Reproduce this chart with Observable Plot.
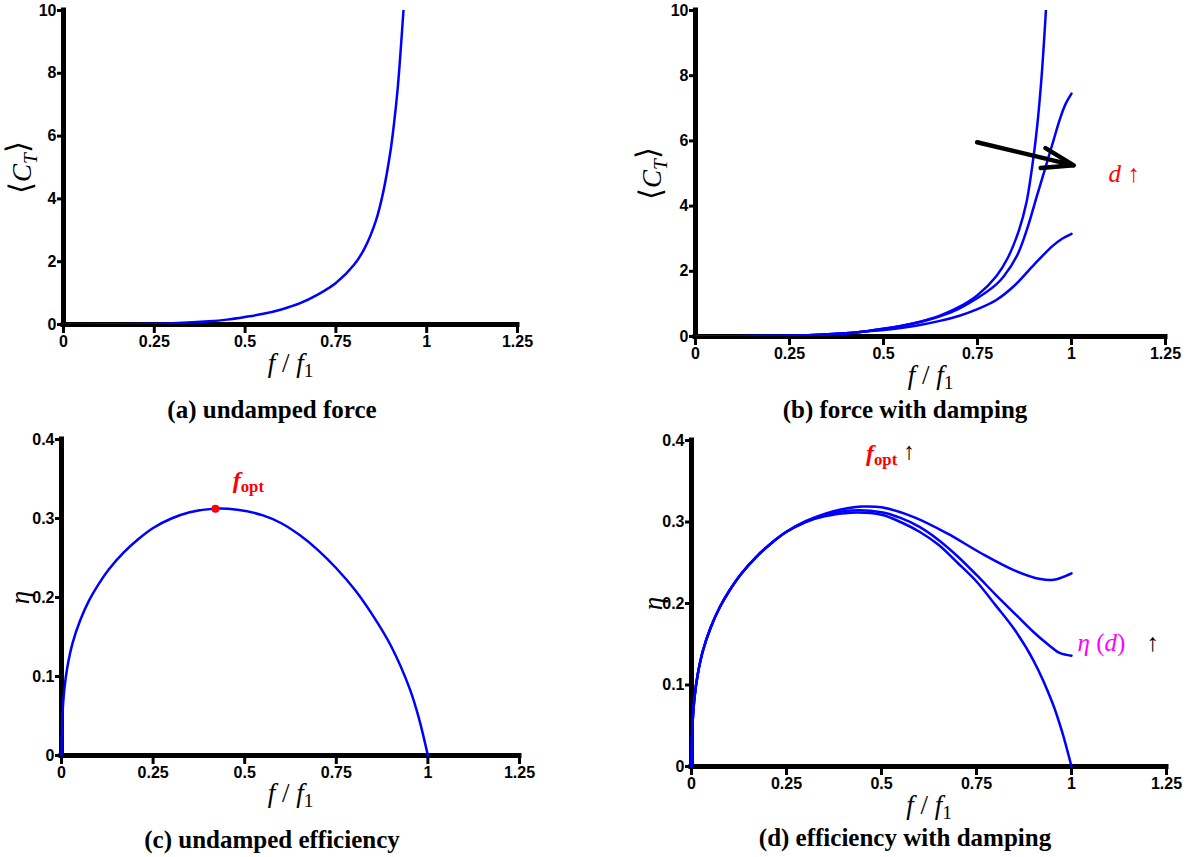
<!DOCTYPE html>
<html><head><meta charset="utf-8">
<script src="https://cdn.jsdelivr.net/npm/d3@7"></script>
<script src="https://cdn.jsdelivr.net/npm/@observablehq/plot@0.6"></script>
<style>
html,body{margin:0;padding:0;background:#fff;}
#root{position:relative;width:1188px;height:857px;overflow:hidden;background:#fff;}
.panel{position:absolute;}
.cap{position:absolute;font-family:"Liberation Serif","Times New Roman",serif;font-weight:bold;font-size:25px;color:#000;white-space:nowrap;transform:translateX(-50%);line-height:28px;}
</style></head><body><div id="root"></div>
<script>
// ---- tick values ----
const xTicks = [0, 0.25, 0.5, 0.75, 1, 1.25];
const ctTicks = [0, 2, 4, 6, 8, 10];
const etaTicks = [0, 0.1, 0.2, 0.3, 0.4];

// ---- (a) undamped force ----
const fA = [0, 0.1, 0.2, 0.3, 0.4, 0.45, 0.5, 0.55, 0.6, 0.65, 0.7, 0.75, 0.8, 0.83, 0.86, 0.88, 0.9, 0.91, 0.92, 0.93, 0.936];
const cA = [0, 0.004, 0.015, 0.04, 0.1, 0.155, 0.24, 0.34, 0.48, 0.67, 0.95, 1.32, 1.9, 2.45, 3.3, 4.2, 5.5, 6.4, 7.5, 9.0, 10];

// ---- (b) force with damping (three damping levels) ----
const fB1 = [0, 0.1, 0.2, 0.3, 0.4, 0.45, 0.5, 0.55, 0.6, 0.65, 0.7, 0.75, 0.8, 0.83, 0.86, 0.88, 0.9, 0.91, 0.92, 0.926, 0.932];
const cB1 = [0, 0.004, 0.015, 0.04, 0.1, 0.155, 0.235, 0.33, 0.46, 0.64, 0.9, 1.27, 1.85, 2.4, 3.25, 4.1, 5.6, 6.6, 7.9, 8.9, 10];
const fB2 = [0, 0.1, 0.2, 0.3, 0.4, 0.45, 0.5, 0.55, 0.6, 0.65, 0.7, 0.75, 0.8, 0.82, 0.856, 0.882, 0.909, 0.935, 0.953, 0.97, 0.985, 1.0];
const cB2 = [0, 0.004, 0.015, 0.04, 0.1, 0.155, 0.235, 0.33, 0.45, 0.62, 0.85, 1.18, 1.6, 1.85, 2.5, 3.3, 4.35, 5.35, 6.05, 6.7, 7.15, 7.45];
const fB3 = [0, 0.1, 0.2, 0.3, 0.4, 0.45, 0.5, 0.55, 0.6, 0.65, 0.7, 0.75, 0.8, 0.85, 0.9, 0.95, 0.975, 1.0];
const cB3 = [0, 0.004, 0.015, 0.04, 0.1, 0.15, 0.2, 0.27, 0.36, 0.48, 0.63, 0.84, 1.12, 1.58, 2.2, 2.78, 3.0, 3.15];

// ---- (c) undamped efficiency ----
const fC = [0, 0.003, 0.008, 0.016, 0.03, 0.05, 0.075, 0.1, 0.13, 0.17, 0.21, 0.25, 0.3, 0.35, 0.42, 0.48, 0.55, 0.6, 0.65, 0.7, 0.75, 0.8, 0.85, 0.9, 0.95, 0.975, 1.0];
const eC = [0, 0.055, 0.085, 0.112, 0.142, 0.17, 0.196, 0.216, 0.236, 0.257, 0.274, 0.288, 0.3, 0.308, 0.3125, 0.311, 0.304, 0.294, 0.279, 0.26, 0.237, 0.21, 0.177, 0.138, 0.085, 0.048, 0];
const fOpt = [0.42];
const etaOpt = [0.3125];

// ---- (d) efficiency with damping (three damping levels) ----
const fD1 = [0, 0.003, 0.008, 0.016, 0.03, 0.05, 0.075, 0.1, 0.13, 0.17, 0.21, 0.25, 0.3, 0.35, 0.42, 0.5, 0.55, 0.6, 0.65, 0.7, 0.75, 0.8, 0.85, 0.9, 0.95, 0.975, 1.0];
const eD1 = [0, 0.055, 0.085, 0.112, 0.142, 0.17, 0.196, 0.216, 0.236, 0.257, 0.274, 0.288, 0.3, 0.307, 0.3115, 0.309, 0.3, 0.288, 0.272, 0.25, 0.227, 0.198, 0.168, 0.13, 0.078, 0.043, 0];
const fD2 = [0, 0.003, 0.008, 0.016, 0.03, 0.05, 0.075, 0.1, 0.13, 0.17, 0.21, 0.25, 0.3, 0.35, 0.42, 0.5, 0.55, 0.6, 0.65, 0.7, 0.75, 0.8, 0.85, 0.9, 0.94, 0.97, 1.0];
const eD2 = [0, 0.055, 0.085, 0.112, 0.142, 0.17, 0.196, 0.216, 0.236, 0.257, 0.274, 0.288, 0.3, 0.308, 0.314, 0.312, 0.305, 0.294, 0.278, 0.258, 0.235, 0.211, 0.188, 0.165, 0.149, 0.139, 0.136];
const fD3 = [0, 0.003, 0.008, 0.016, 0.03, 0.05, 0.075, 0.1, 0.13, 0.17, 0.21, 0.25, 0.3, 0.35, 0.4, 0.45, 0.5, 0.585, 0.673, 0.761, 0.848, 0.918, 0.953, 0.975, 1.0];
const eD3 = [0, 0.055, 0.085, 0.112, 0.142, 0.17, 0.196, 0.216, 0.236, 0.257, 0.274, 0.288, 0.301, 0.31, 0.316, 0.319, 0.318, 0.306, 0.286, 0.262, 0.241, 0.23, 0.229, 0.232, 0.237];

// ---- annotations (data units) ----
const arrowB = [{f1: 0.749, c1: 5.96, f2: 1.006, c2: 5.25}];
const noteB = [{f: 1.14, c: 5.0}];
const noteC = [{f: 0.51, e: 0.348}];
const noteD1 = [{f: 0.524, e: 0.384}];
const noteD2 = [{f: 1.079, e: 0.151}];
const noteD3 = [{f: 1.213, e: 0.151}];

const captions = ["(a) undamped force", "(b) force with damping", "(c) undamped efficiency", "(d) efficiency with damping"];

const rows = (fs, vs, s) => fs.map((f, i) => ({f, v: vs[i], s}));
const BLUE = "#0000ff";
const SERIF = "Liberation Serif, Times New Roman, serif";
const fmt = d => String(d);
const CURVE = "catmull-rom";

function axes(yTicks, xlab, ylab, xdy, ydx) {
  return [
    Plot.ruleY([0], {strokeWidth: 5, strokeLinecap: "square"}),
    Plot.ruleX([0], {strokeWidth: 5, strokeLinecap: "square"}),
    Plot.axisX({ticks: xTicks, tickFormat: fmt, tickSize: 9, tickPadding: 2, strokeWidth: 3, label: null}),
    Plot.axisY({ticks: yTicks, tickFormat: fmt, tickSize: 6, tickPadding: 1, strokeWidth: 3, label: null}),
    Plot.text([xlab], {text: d => d, frameAnchor: "bottom", dy: xdy, textAnchor: "middle", fontSize: 27, fontFamily: SERIF, fontWeight: "normal"}),
    Plot.text([ylab], {text: d => d, frameAnchor: "left", dx: ydx, rotate: -90, textAnchor: "middle", fontSize: 27, fontFamily: SERIF, fontWeight: "normal"})
  ];
}

function make(cfg) {
  const svg = Plot.plot({
    width: cfg.width, height: cfg.height,
    marginLeft: cfg.mL, marginRight: cfg.mR, marginTop: cfg.mT, marginBottom: cfg.mB,
    x: {domain: [0, 1.25]},
    y: {domain: cfg.yDomain},
    style: {fontFamily: "Liberation Sans, Arial, sans-serif", fontSize: "16px", fontWeight: "bold", color: "black", background: "transparent", overflow: "visible"},
    marks: cfg.marks
  });
  const div = document.createElement("div");
  div.className = "panel";
  div.style.left = cfg.left + "px";
  div.style.top = cfg.top + "px";
  div.appendChild(svg);
  document.getElementById("root").appendChild(div);
  // turn plain placeholder labels into rich text (italics, subscripts)
  const map = new Map(cfg.rich);
  svg.querySelectorAll("text").forEach(t => {
    const key = t.textContent;
    if (map.has(key)) t.innerHTML = map.get(key);
  });
  return svg;
}

const ffLabel = '<tspan font-style="italic">f</tspan> / <tspan font-style="italic">f</tspan><tspan dy="0.3em" font-size="0.72em">1</tspan>';
const ctLabel = '<tspan font-size="1.15em">⟨</tspan><tspan font-style="italic">C</tspan><tspan dy="0.3em" font-size="0.72em" font-style="italic">T</tspan><tspan dy="-0.3em" font-size="1.15em">⟩</tspan>';
const etaLabel = '<tspan font-style="italic">η</tspan>';
const foptLabel = '<tspan font-style="italic">f</tspan><tspan dy="0.25em" font-size="0.7em">opt</tspan>';

// (a)
make({
  left: 0, top: 0, width: 540, height: 390, mL: 63, mR: 23, mT: 10, mB: 66,
  yDomain: [0, 10],
  marks: [
    ...axes(ctTicks, "f / f1", "CT", 47, -41),
    Plot.line(rows(fA, cA, "a"), {x: "f", y: "v", stroke: BLUE, strokeWidth: 2.5, curve: CURVE, clip: true})
  ],
  rich: [["f / f1", ffLabel], ["CT", ctLabel]]
});

// (b)
make({
  left: 630, top: 0, width: 558, height: 400, mL: 65, mR: 23, mT: 10, mB: 64,
  yDomain: [0, 10],
  marks: [
    ...axes(ctTicks, "f / f1", "CT", 47, -43),
    Plot.line([...rows(fB1, cB1, "1"), ...rows(fB2, cB2, "2"), ...rows(fB3, cB3, "3")], {x: "f", y: "v", z: "s", stroke: BLUE, strokeWidth: 2.5, curve: CURVE, clip: true}),
    Plot.arrow(arrowB, {x1: "f1", y1: "c1", x2: "f2", y2: "c2", stroke: "black", strokeWidth: 4.5, headLength: 24, headAngle: 36}),
    Plot.text(noteB, {x: "f", y: "c", text: () => "d ↑", fill: "red", fontSize: 25, fontFamily: SERIF, fontWeight: "normal"})
  ],
  rich: [["f / f1", ffLabel], ["CT", ctLabel], ["d ↑", '<tspan font-style="italic">d</tspan> ↑']]
});

// (c)
make({
  left: 0, top: 420, width: 540, height: 400, mL: 61, mR: 21, mT: 19, mB: 65,
  yDomain: [0, 0.4],
  marks: [
    ...axes(etaTicks, "f / f1", "η", 46, -41),
    Plot.line(rows(fC, eC, "c"), {x: "f", y: "v", stroke: BLUE, strokeWidth: 2.5, curve: CURVE}),
    Plot.dot(fOpt.map((f, i) => ({f, e: etaOpt[i]})), {x: "f", y: "e", r: 4, fill: "red", stroke: "none"}),
    Plot.text(noteC, {x: "f", y: "e", text: () => "fopt", fill: "red", fontSize: 24, fontFamily: SERIF, fontWeight: "bold"})
  ],
  rich: [["f / f1", ffLabel], ["η", etaLabel], ["fopt", foptLabel]]
});

// (d)
make({
  left: 630, top: 420, width: 558, height: 410, mL: 61, mR: 22, mT: 20, mB: 64,
  yDomain: [0, 0.4],
  marks: [
    ...axes(etaTicks, "f / f1", "η", 47, -38),
    Plot.line([...rows(fD1, eD1, "1"), ...rows(fD2, eD2, "2"), ...rows(fD3, eD3, "3")], {x: "f", y: "v", z: "s", stroke: BLUE, strokeWidth: 2.5, curve: CURVE}),
    Plot.text(noteD1, {x: "f", y: "e", text: () => "fopt ↑", fill: "red", fontSize: 24, fontFamily: SERIF, fontWeight: "bold"}),
    Plot.text(noteD2, {x: "f", y: "e", text: () => "η (d)", fill: "#ff00ff", fontSize: 25, fontFamily: SERIF, fontWeight: "normal"}),
    Plot.text(noteD3, {x: "f", y: "e", text: () => "↑", fill: "black", fontSize: 25, fontFamily: SERIF, fontWeight: "normal"})
  ],
  rich: [["f / f1", ffLabel], ["η", etaLabel],
         ["fopt ↑", foptLabel + '<tspan dy="-0.25em" fill="black" font-weight="normal"> ↑</tspan>'],
         ["η (d)", '<tspan font-style="italic">η</tspan> (<tspan font-style="italic">d</tspan>)']]
});

// captions
const capPos = [[272, 396], [905, 396], [272, 826], [905, 824]];
captions.forEach((c, i) => {
  const el = document.createElement("div");
  el.className = "cap";
  el.style.left = capPos[i][0] + "px";
  el.style.top = capPos[i][1] + "px";
  el.textContent = c;
  document.getElementById("root").appendChild(el);
});
</script></body></html>
